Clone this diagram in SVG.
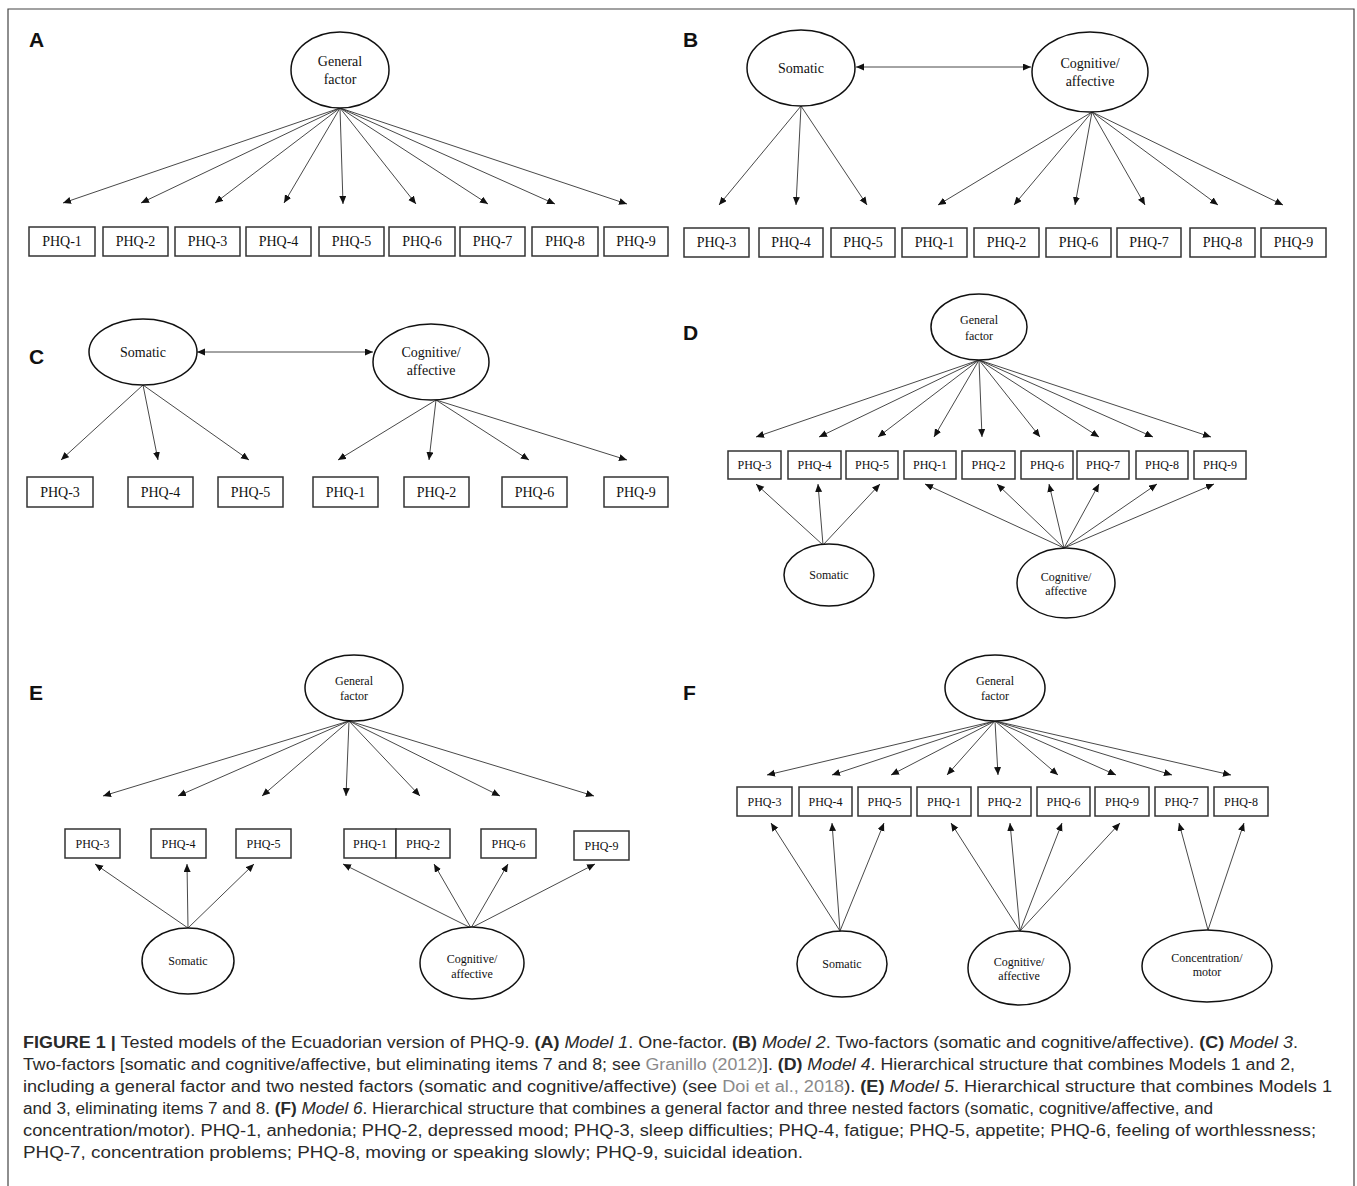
<svg xmlns="http://www.w3.org/2000/svg" width="1357" height="1186" viewBox="0 0 1357 1186">
<defs>
<marker id="ah" markerWidth="9" markerHeight="8" refX="8" refY="3.5" orient="auto" markerUnits="userSpaceOnUse"><path d="M0,0 L8,3.5 L0,7 z" fill="#111"/></marker>
<marker id="ah2" markerWidth="9" markerHeight="8" refX="8" refY="3.5" orient="auto-start-reverse" markerUnits="userSpaceOnUse"><path d="M0,0 L8,3.5 L0,7 z" fill="#111"/></marker>
<style>
.box{fill:#fff;stroke:#333;stroke-width:1.5}
.ell{fill:#fff;stroke:#111;stroke-width:1.5}
.t{font-family:"Liberation Serif","Times New Roman",serif;font-size:14px;text-anchor:middle;fill:#111}
.s{font-size:12px}
.pl{font-family:"Liberation Sans",Arial,sans-serif;font-weight:bold;font-size:21px;fill:#111}
.ar{stroke:#333;stroke-width:0.9;fill:none;marker-end:url(#ah)}
.dar{stroke:#333;stroke-width:0.9;fill:none;marker-end:url(#ah2);marker-start:url(#ah2)}
.cap{font-family:"Liberation Sans",Arial,sans-serif;font-size:16px;fill:#2a2a2a}
.b{font-weight:bold}
.i{font-style:italic}
.g{fill:#8a8a8a}
</style>
</defs>
<path d="M8,1186 V9 H1354 V1186" fill="none" stroke="#444" stroke-width="1.2"/>

<g id="labels">
<text class="pl" x="29" y="47">A</text>
<text class="pl" x="683" y="47">B</text>
<text class="pl" x="29" y="364">C</text>
<text class="pl" x="683" y="340">D</text>
<text class="pl" x="29" y="700">E</text>
<text class="pl" x="683" y="700">F</text>
</g>

<g id="connectors">
<!-- A -->
<line class="ar" x1="340" y1="108" x2="63" y2="203"/>
<line class="ar" x1="340" y1="108" x2="141" y2="203"/>
<line class="ar" x1="340" y1="108" x2="215" y2="203"/>
<line class="ar" x1="340" y1="108" x2="284" y2="203"/>
<line class="ar" x1="340" y1="108" x2="343" y2="204"/>
<line class="ar" x1="340" y1="108" x2="416" y2="204"/>
<line class="ar" x1="340" y1="108" x2="488" y2="204"/>
<line class="ar" x1="340" y1="108" x2="555" y2="204"/>
<line class="ar" x1="340" y1="108" x2="627" y2="204"/>
<!-- B -->
<line class="dar" x1="856" y1="67" x2="1031" y2="67"/>
<line class="ar" x1="801" y1="106" x2="719" y2="205"/>
<line class="ar" x1="801" y1="106" x2="796" y2="205"/>
<line class="ar" x1="801" y1="106" x2="867" y2="205"/>
<line class="ar" x1="1092" y1="112" x2="938" y2="205"/>
<line class="ar" x1="1092" y1="112" x2="1014" y2="205"/>
<line class="ar" x1="1092" y1="112" x2="1075" y2="205"/>
<line class="ar" x1="1092" y1="112" x2="1145" y2="205"/>
<line class="ar" x1="1092" y1="112" x2="1218" y2="205"/>
<line class="ar" x1="1092" y1="112" x2="1283" y2="205"/>
<!-- C -->
<line class="dar" x1="197" y1="352" x2="373" y2="352"/>
<line class="ar" x1="143" y1="385" x2="61" y2="460"/>
<line class="ar" x1="143" y1="385" x2="158" y2="460"/>
<line class="ar" x1="143" y1="385" x2="249" y2="460"/>
<line class="ar" x1="436" y1="400" x2="338" y2="460"/>
<line class="ar" x1="436" y1="400" x2="429" y2="460"/>
<line class="ar" x1="436" y1="400" x2="529" y2="460"/>
<line class="ar" x1="436" y1="400" x2="627" y2="460"/>
<!-- D -->
<line class="ar" x1="979" y1="360" x2="756" y2="437"/>
<line class="ar" x1="979" y1="360" x2="819" y2="437"/>
<line class="ar" x1="979" y1="360" x2="878" y2="437"/>
<line class="ar" x1="979" y1="360" x2="934" y2="437"/>
<line class="ar" x1="979" y1="360" x2="982" y2="437"/>
<line class="ar" x1="979" y1="360" x2="1040" y2="437"/>
<line class="ar" x1="979" y1="360" x2="1099" y2="437"/>
<line class="ar" x1="979" y1="360" x2="1153" y2="437"/>
<line class="ar" x1="979" y1="360" x2="1211" y2="437"/>
<line class="ar" x1="823" y1="545" x2="756" y2="484"/>
<line class="ar" x1="823" y1="545" x2="818" y2="484"/>
<line class="ar" x1="823" y1="545" x2="880" y2="484"/>
<line class="ar" x1="1064" y1="548" x2="925" y2="484"/>
<line class="ar" x1="1064" y1="548" x2="997" y2="484"/>
<line class="ar" x1="1064" y1="548" x2="1049" y2="484"/>
<line class="ar" x1="1064" y1="548" x2="1099" y2="484"/>
<line class="ar" x1="1064" y1="548" x2="1157" y2="484"/>
<line class="ar" x1="1064" y1="548" x2="1214" y2="484"/>
<!-- E -->
<line class="ar" x1="349" y1="721" x2="103" y2="796"/>
<line class="ar" x1="349" y1="721" x2="178" y2="796"/>
<line class="ar" x1="349" y1="721" x2="262" y2="796"/>
<line class="ar" x1="349" y1="721" x2="346" y2="796"/>
<line class="ar" x1="349" y1="721" x2="420" y2="796"/>
<line class="ar" x1="349" y1="721" x2="500" y2="796"/>
<line class="ar" x1="349" y1="721" x2="594" y2="796"/>
<line class="ar" x1="188" y1="928" x2="95" y2="864"/>
<line class="ar" x1="188" y1="928" x2="187" y2="864"/>
<line class="ar" x1="188" y1="928" x2="254" y2="864"/>
<line class="ar" x1="471" y1="928" x2="343" y2="864"/>
<line class="ar" x1="471" y1="928" x2="434" y2="864"/>
<line class="ar" x1="471" y1="928" x2="508" y2="864"/>
<line class="ar" x1="471" y1="928" x2="595" y2="864"/>
<!-- F -->
<line class="ar" x1="995" y1="721" x2="767" y2="775"/>
<line class="ar" x1="995" y1="721" x2="832" y2="775"/>
<line class="ar" x1="995" y1="721" x2="891" y2="775"/>
<line class="ar" x1="995" y1="721" x2="947" y2="775"/>
<line class="ar" x1="995" y1="721" x2="998" y2="775"/>
<line class="ar" x1="995" y1="721" x2="1058" y2="775"/>
<line class="ar" x1="995" y1="721" x2="1116" y2="775"/>
<line class="ar" x1="995" y1="721" x2="1172" y2="775"/>
<line class="ar" x1="995" y1="721" x2="1231" y2="775"/>
<line class="ar" x1="840" y1="931" x2="771" y2="823"/>
<line class="ar" x1="840" y1="931" x2="832" y2="823"/>
<line class="ar" x1="840" y1="931" x2="884" y2="823"/>
<line class="ar" x1="1020" y1="931" x2="951" y2="823"/>
<line class="ar" x1="1020" y1="931" x2="1010" y2="823"/>
<line class="ar" x1="1020" y1="931" x2="1062" y2="823"/>
<line class="ar" x1="1020" y1="931" x2="1120" y2="823"/>
<line class="ar" x1="1208" y1="930" x2="1179" y2="823"/>
<line class="ar" x1="1208" y1="930" x2="1244" y2="823"/>
</g>

<!-- Panel A -->
<g id="A-general"><ellipse class="ell" cx="340" cy="70" rx="49" ry="38"/><text class="t" x="340" y="66">General</text><text class="t" x="340" y="84">factor</text></g>
<g id="A-phq1"><rect class="box" x="29" y="227" width="66" height="29"/><text class="t" x="62" y="246">PHQ-1</text></g>
<g id="A-phq2"><rect class="box" x="103" y="227" width="65" height="29"/><text class="t" x="135.5" y="246">PHQ-2</text></g>
<g id="A-phq3"><rect class="box" x="175" y="227" width="65" height="29"/><text class="t" x="207.5" y="246">PHQ-3</text></g>
<g id="A-phq4"><rect class="box" x="246" y="227" width="65" height="29"/><text class="t" x="278.5" y="246">PHQ-4</text></g>
<g id="A-phq5"><rect class="box" x="319" y="227" width="65" height="29"/><text class="t" x="351.5" y="246">PHQ-5</text></g>
<g id="A-phq6"><rect class="box" x="389" y="227" width="66" height="29"/><text class="t" x="422" y="246">PHQ-6</text></g>
<g id="A-phq7"><rect class="box" x="460" y="227" width="65" height="29"/><text class="t" x="492.5" y="246">PHQ-7</text></g>
<g id="A-phq8"><rect class="box" x="532" y="227" width="66" height="29"/><text class="t" x="565" y="246">PHQ-8</text></g>
<g id="A-phq9"><rect class="box" x="604" y="227" width="64" height="29"/><text class="t" x="636" y="246">PHQ-9</text></g>

<!-- Panel B -->
<g id="B-somatic"><ellipse class="ell" cx="801" cy="68" rx="54" ry="38"/><text class="t" x="801" y="73">Somatic</text></g>
<g id="B-cog"><ellipse class="ell" cx="1090" cy="72" rx="58" ry="40"/><text class="t" x="1090" y="68">Cognitive/</text><text class="t" x="1090" y="86">affective</text></g>
<g id="B-phq3"><rect class="box" x="684" y="228" width="65" height="29"/><text class="t" x="716.5" y="247">PHQ-3</text></g>
<g id="B-phq4"><rect class="box" x="759" y="228" width="64" height="29"/><text class="t" x="791" y="247">PHQ-4</text></g>
<g id="B-phq5"><rect class="box" x="831" y="228" width="64" height="29"/><text class="t" x="863" y="247">PHQ-5</text></g>
<g id="B-phq1"><rect class="box" x="902" y="228" width="65" height="29"/><text class="t" x="934.5" y="247">PHQ-1</text></g>
<g id="B-phq2"><rect class="box" x="974" y="228" width="65" height="29"/><text class="t" x="1006.5" y="247">PHQ-2</text></g>
<g id="B-phq6"><rect class="box" x="1046" y="228" width="65" height="29"/><text class="t" x="1078.5" y="247">PHQ-6</text></g>
<g id="B-phq7"><rect class="box" x="1117" y="228" width="64" height="29"/><text class="t" x="1149" y="247">PHQ-7</text></g>
<g id="B-phq8"><rect class="box" x="1190" y="228" width="65" height="29"/><text class="t" x="1222.5" y="247">PHQ-8</text></g>
<g id="B-phq9"><rect class="box" x="1261" y="228" width="65" height="29"/><text class="t" x="1293.5" y="247">PHQ-9</text></g>

<!-- Panel C -->
<g id="C-somatic"><ellipse class="ell" cx="143" cy="352" rx="54" ry="33"/><text class="t" x="143" y="357">Somatic</text></g>
<g id="C-cog"><ellipse class="ell" cx="431" cy="362" rx="58" ry="38"/><text class="t" x="431" y="357">Cognitive/</text><text class="t" x="431" y="375">affective</text></g>
<g id="C-phq3"><rect class="box" x="27" y="477" width="66" height="30"/><text class="t" x="60" y="497">PHQ-3</text></g>
<g id="C-phq4"><rect class="box" x="128" y="477" width="65" height="30"/><text class="t" x="160.5" y="497">PHQ-4</text></g>
<g id="C-phq5"><rect class="box" x="218" y="477" width="65" height="30"/><text class="t" x="250.5" y="497">PHQ-5</text></g>
<g id="C-phq1"><rect class="box" x="313" y="477" width="65" height="30"/><text class="t" x="345.5" y="497">PHQ-1</text></g>
<g id="C-phq2"><rect class="box" x="404" y="477" width="65" height="30"/><text class="t" x="436.5" y="497">PHQ-2</text></g>
<g id="C-phq6"><rect class="box" x="502" y="477" width="65" height="30"/><text class="t" x="534.5" y="497">PHQ-6</text></g>
<g id="C-phq9"><rect class="box" x="604" y="477" width="64" height="30"/><text class="t" x="636" y="497">PHQ-9</text></g>

<!-- Panel D -->
<g id="D-general"><ellipse class="ell" cx="979" cy="327" rx="48" ry="33"/><text class="t s" x="979" y="324">General</text><text class="t s" x="979" y="340">factor</text></g>
<g id="D-phq3"><rect class="box" x="728" y="451" width="53" height="28"/><text class="t s" x="754.5" y="469">PHQ-3</text></g>
<g id="D-phq4"><rect class="box" x="788" y="451" width="53" height="28"/><text class="t s" x="814.5" y="469">PHQ-4</text></g>
<g id="D-phq5"><rect class="box" x="846" y="451" width="52" height="28"/><text class="t s" x="872" y="469">PHQ-5</text></g>
<g id="D-phq1"><rect class="box" x="904" y="451" width="52" height="28"/><text class="t s" x="930" y="469">PHQ-1</text></g>
<g id="D-phq2"><rect class="box" x="962" y="451" width="53" height="28"/><text class="t s" x="988.5" y="469">PHQ-2</text></g>
<g id="D-phq6"><rect class="box" x="1021" y="451" width="52" height="28"/><text class="t s" x="1047" y="469">PHQ-6</text></g>
<g id="D-phq7"><rect class="box" x="1077" y="451" width="52" height="28"/><text class="t s" x="1103" y="469">PHQ-7</text></g>
<g id="D-phq8"><rect class="box" x="1136" y="451" width="52" height="28"/><text class="t s" x="1162" y="469">PHQ-8</text></g>
<g id="D-phq9"><rect class="box" x="1194" y="451" width="52" height="28"/><text class="t s" x="1220" y="469">PHQ-9</text></g>
<g id="D-somatic"><ellipse class="ell" cx="829" cy="575" rx="45" ry="31"/><text class="t s" x="829" y="579">Somatic</text></g>
<g id="D-cog"><ellipse class="ell" cx="1066" cy="583" rx="49" ry="35"/><text class="t s" x="1066" y="581">Cognitive/</text><text class="t s" x="1066" y="595">affective</text></g>

<!-- Panel E -->
<g id="E-general"><ellipse class="ell" cx="354" cy="688" rx="49" ry="33"/><text class="t s" x="354" y="685">General</text><text class="t s" x="354" y="700">factor</text></g>
<g id="E-phq3"><rect class="box" x="65" y="829" width="55" height="29"/><text class="t s" x="92.5" y="848">PHQ-3</text></g>
<g id="E-phq4"><rect class="box" x="151" y="829" width="55" height="29"/><text class="t s" x="178.5" y="848">PHQ-4</text></g>
<g id="E-phq5"><rect class="box" x="236" y="829" width="55" height="29"/><text class="t s" x="263.5" y="848">PHQ-5</text></g>
<g id="E-phq1"><rect class="box" x="344" y="829" width="52" height="29"/><text class="t s" x="370" y="848">PHQ-1</text></g>
<g id="E-phq2"><rect class="box" x="396" y="829" width="54" height="29"/><text class="t s" x="423" y="848">PHQ-2</text></g>
<g id="E-phq6"><rect class="box" x="481" y="829" width="55" height="29"/><text class="t s" x="508.5" y="848">PHQ-6</text></g>
<g id="E-phq9"><rect class="box" x="574" y="831" width="55" height="29"/><text class="t s" x="601.5" y="850">PHQ-9</text></g>
<g id="E-somatic"><ellipse class="ell" cx="188" cy="961" rx="46" ry="33"/><text class="t s" x="188" y="965">Somatic</text></g>
<g id="E-cog"><ellipse class="ell" cx="472" cy="963" rx="52" ry="36"/><text class="t s" x="472" y="963">Cognitive/</text><text class="t s" x="472" y="978">affective</text></g>

<!-- Panel F -->
<g id="F-general"><ellipse class="ell" cx="995" cy="688" rx="50" ry="33"/><text class="t s" x="995" y="685">General</text><text class="t s" x="995" y="700">factor</text></g>
<g id="F-phq3"><rect class="box" x="737" y="787" width="55" height="29"/><text class="t s" x="764.5" y="806">PHQ-3</text></g>
<g id="F-phq4"><rect class="box" x="799" y="787" width="53" height="29"/><text class="t s" x="825.5" y="806">PHQ-4</text></g>
<g id="F-phq5"><rect class="box" x="858" y="787" width="53" height="29"/><text class="t s" x="884.5" y="806">PHQ-5</text></g>
<g id="F-phq1"><rect class="box" x="917" y="787" width="54" height="29"/><text class="t s" x="944" y="806">PHQ-1</text></g>
<g id="F-phq2"><rect class="box" x="978" y="787" width="53" height="29"/><text class="t s" x="1004.5" y="806">PHQ-2</text></g>
<g id="F-phq6"><rect class="box" x="1037" y="787" width="53" height="29"/><text class="t s" x="1063.5" y="806">PHQ-6</text></g>
<g id="F-phq9"><rect class="box" x="1095" y="787" width="54" height="29"/><text class="t s" x="1122" y="806">PHQ-9</text></g>
<g id="F-phq7"><rect class="box" x="1155" y="787" width="53" height="29"/><text class="t s" x="1181.5" y="806">PHQ-7</text></g>
<g id="F-phq8"><rect class="box" x="1214" y="787" width="54" height="29"/><text class="t s" x="1241" y="806">PHQ-8</text></g>
<g id="F-somatic"><ellipse class="ell" cx="842" cy="964" rx="45" ry="33"/><text class="t s" x="842" y="968">Somatic</text></g>
<g id="F-cog"><ellipse class="ell" cx="1019" cy="968" rx="51" ry="37"/><text class="t s" x="1019" y="966">Cognitive/</text><text class="t s" x="1019" y="980">affective</text></g>
<g id="F-conc"><ellipse class="ell" cx="1207" cy="966" rx="65" ry="36"/><text class="t s" x="1207" y="962">Concentration/</text><text class="t s" x="1207" y="976">motor</text></g>

<g id="caption" class="cap">
<text x="23" y="1048" textLength="1275" lengthAdjust="spacingAndGlyphs"><tspan class="b">FIGURE 1 |</tspan> Tested models of the Ecuadorian version of PHQ-9. <tspan class="b">(A)</tspan> <tspan class="i">Model 1</tspan>. One-factor. <tspan class="b">(B)</tspan> <tspan class="i">Model 2</tspan>. Two-factors (somatic and cognitive/affective). <tspan class="b">(C)</tspan> <tspan class="i">Model 3</tspan>.</text>
<text x="23" y="1070" textLength="1272" lengthAdjust="spacingAndGlyphs">Two-factors [somatic and cognitive/affective, but eliminating items 7 and 8; see <tspan class="g">Granillo (2012)</tspan>]. <tspan class="b">(D)</tspan> <tspan class="i">Model 4</tspan>. Hierarchical structure that combines Models 1 and 2,</text>
<text x="23" y="1092" textLength="1309" lengthAdjust="spacingAndGlyphs">including a general factor and two nested factors (somatic and cognitive/affective) (see <tspan class="g">Doi et al., 2018</tspan>). <tspan class="b">(E)</tspan> <tspan class="i">Model 5</tspan>. Hierarchical structure that combines Models 1</text>
<text x="23" y="1114" textLength="1190" lengthAdjust="spacingAndGlyphs">and 3, eliminating items 7 and 8. <tspan class="b">(F)</tspan> <tspan class="i">Model 6</tspan>. Hierarchical structure that combines a general factor and three nested factors (somatic, cognitive/affective, and</text>
<text x="23" y="1136" textLength="1293" lengthAdjust="spacingAndGlyphs">concentration/motor). PHQ-1, anhedonia; PHQ-2, depressed mood; PHQ-3, sleep difficulties; PHQ-4, fatigue; PHQ-5, appetite; PHQ-6, feeling of worthlessness;</text>
<text x="23" y="1158" textLength="780" lengthAdjust="spacingAndGlyphs">PHQ-7, concentration problems; PHQ-8, moving or speaking slowly; PHQ-9, suicidal ideation.</text>
</g>
</svg>
